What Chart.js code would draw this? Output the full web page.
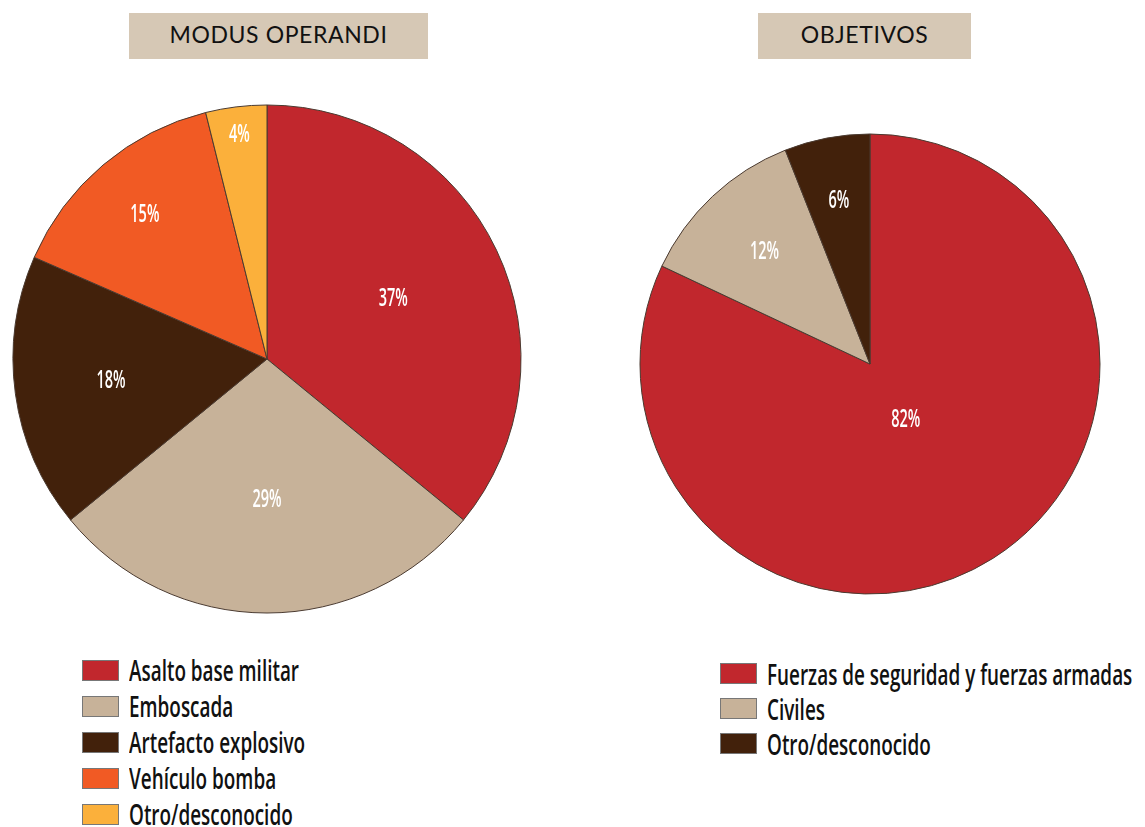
<!DOCTYPE html>
<html><head><meta charset="utf-8">
<script src="https://cdn.jsdelivr.net/npm/chart.js@4.4.1/dist/chart.umd.min.js"></script>
<style>
html,body{margin:0;padding:0;background:#fff;width:1145px;height:827px;overflow:hidden;position:relative;}
.title{position:absolute;background:#d6c8b5;color:#111;font-family:Lato,"DejaVu Sans",sans-serif;font-size:23px;text-align:center;line-height:42px;height:46px;letter-spacing:0.6px;}
.wrap{position:absolute;}
.legend{position:absolute;font-family:"Open Sans","DejaVu Sans",sans-serif;font-weight:600;color:#111;}
.legend .row{display:flex;align-items:center;white-space:nowrap;}
.legend .sw{width:37px;height:21px;border:1px solid #777;box-sizing:border-box;margin-right:10px;flex:none;}
.legend .tx{display:inline-block;transform:scaleX(0.675);transform-origin:0 50%;}
</style></head><body>
<div class="title" style="left:129px;top:13px;width:299px;">MODUS OPERANDI</div>
<div class="title" style="left:758px;top:13px;width:213px;">OBJETIVOS</div>
<div class="wrap" style="left:7px;top:99px;width:520px;height:520px;"><canvas id="c1"></canvas></div>
<div class="wrap" style="left:630px;top:124px;width:480px;height:480px;"><canvas id="c2"></canvas></div>
<div class="legend" id="lg1" style="left:82px;top:652px;font-size:28px;"></div>
<div class="legend" id="lg2" style="left:720px;top:656px;font-size:28px;"></div>
<script>
const modusLabels = ["Asalto base militar","Emboscada","Artefacto explosivo","Vehículo bomba","Otro/desconocido"];
const modusValues = [37,29,18,15,4];
const modusColors = ["#c1272d","#c7b299","#42210b","#f15a24","#fbb03b"];
const objLabels = ["Fuerzas de seguridad y fuerzas armadas","Civiles","Otro/desconocido"];
const objValues = [82,12,6];
const objColors = ["#c1272d","#c7b299","#42210b"];

const pctLabels = {
  id:'pctLabels',
  afterDatasetsDraw(chart, args, opts){
    const ctx = chart.ctx;
    const meta = chart.getDatasetMeta(0);
    const data = chart.data.datasets[0].data;
    meta.data.forEach((arc, i) => {
      const mid = (arc.startAngle + arc.endAngle) / 2;
      const r = arc.outerRadius * opts.radii[i];
      ctx.save();
      ctx.fillStyle = '#fff';
      ctx.font = opts.font;
      ctx.textAlign = 'center';
      ctx.textBaseline = 'middle';
      ctx.translate(arc.x + Math.cos(mid) * r, arc.y + Math.sin(mid) * r);
      ctx.scale(opts.sx, 1);
      ctx.fillText(data[i] + '%', 0, 0);
      ctx.restore();
    });
  }
};

function makePie(id, labels, values, colors, radius, radii){
  new Chart(document.getElementById(id), {
    type:'pie',
    data:{labels, datasets:[{data:values, backgroundColor:colors, borderColor:'#4a3a30', borderWidth:1, radius}]},
    options:{
      responsive:true, maintainAspectRatio:false, animation:false,
      layout:{padding:0},
      plugins:{legend:{display:false}, tooltip:{enabled:false},
        pctLabels:{font:'600 25px "Open Sans","DejaVu Sans",sans-serif', sx:0.58, radii}}
    },
    plugins:[pctLabels]
  });
}
makePie('c1', modusLabels, modusValues, modusColors, 254, [0.55,0.555,0.62,0.745,0.89]);
makePie('c2', objLabels, objValues, objColors, 230, [0.29,0.67,0.72]);

function makeLegend(id, labels, colors, gap){
  const el = document.getElementById(id);
  labels.forEach((l,i)=>{
    const row = document.createElement('div');
    row.className='row';
    row.style.height = gap+'px';
    const sw = document.createElement('span');
    sw.className='sw'; sw.style.background = colors[i];
    const t = document.createElement('span'); t.className='tx'; t.textContent = l;
    row.appendChild(sw); row.appendChild(t); el.appendChild(row);
  });
}
makeLegend('lg1', modusLabels, modusColors, 36);
makeLegend('lg2', objLabels, objColors, 35);
</script>
</body></html>
